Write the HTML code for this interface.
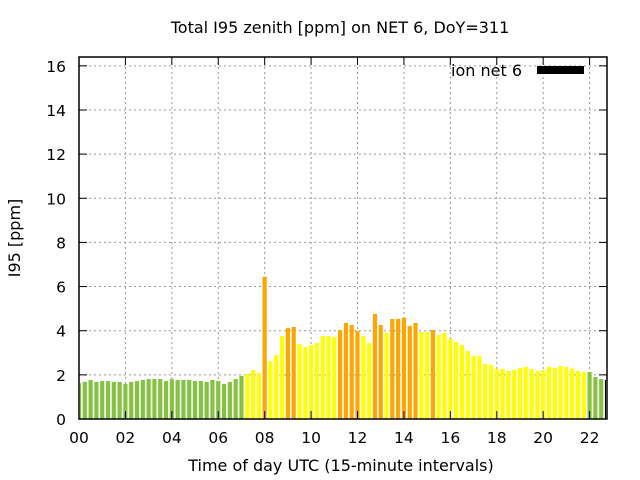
<!DOCTYPE html>
<html><head><meta charset="utf-8"><style>
body{margin:0;background:#fff;}
svg{display:block;font-family:"DejaVu Sans","Liberation Sans",sans-serif;}
</style></head><body>
<svg id="c" width="640" height="480" viewBox="0 0 640 480">
<text x="340" y="33" text-anchor="middle" font-size="16">Total I95 zenith [ppm] on NET 6, DoY=311</text>
<text x="341" y="471" text-anchor="middle" font-size="16">Time of day UTC (15-minute intervals)</text>
<text x="20" y="238" text-anchor="middle" font-size="16" transform="rotate(-90 20 238)">I95 [ppm]</text>
<g id="grid"></g><g id="bars"></g><g id="axes"></g>
<text x="522" y="76" text-anchor="end" font-size="16">ion net 6</text>
<rect x="537" y="66" width="47" height="8" fill="#000"/>
</svg>
<script>
const values=[1.63,1.68,1.77,1.68,1.72,1.72,1.68,1.68,1.59,1.68,1.72,1.77,1.81,1.81,1.81,1.72,1.81,1.77,1.77,1.77,1.72,1.72,1.68,1.77,1.72,1.59,1.68,1.81,1.95,2.04,2.22,2.08,
6.44,2.63,2.90,3.76,4.12,4.17,3.40,3.26,3.35,3.44,3.76,3.76,3.72,4.03,4.35,4.26,3.99,3.76,3.44,4.76,4.26,3.90,4.53,4.53,4.58,4.21,4.35,3.94,3.94,4.03,3.81,
3.90,3.63,3.49,3.35,3.08,2.86,2.86,2.49,2.45,2.27,2.27,2.18,2.22,2.31,2.36,2.27,2.18,2.22,2.36,2.31,2.40,2.36,2.27,2.18,2.13,2.13,1.90,1.81,1.77];
const levels="GGGGGGGGGGGGGGGGGGGGGGGGGGGGGYYYOYYYOOYYYYYYYOOOOYYOOYOOOOOYYOYYYYYYYYYYYYYYYYYYYYYYYYYYGGG".split("");
const yTicks=[0,2,4,6,8,10,12,14,16];
const xTicks=["00","02","04","06","08","10","12","14","16","18","20","22"];
const L=79,R=607,T=57,B=419,xMax=22.75,yMax=16.4;
const X=h=>L+(R-L)*h/xMax, Y=v=>B-(B-T)*v/yMax;
const col={G:"#84c341",Y:"#ffff00",O:"#ffa500"};
const NS="http://www.w3.org/2000/svg";
function mk(p,t,a){const e=document.createElementNS(NS,t);for(const k in a)e.setAttribute(k,a[k]);p.appendChild(e);return e;}
const g=document.getElementById("grid"),b=document.getElementById("bars"),ax=document.getElementById("axes");
yTicks.forEach(v=>{
 if(v>0){const l=mk(g,"line",{x1:L,x2:R,y1:Y(v),y2:Y(v),stroke:"#999","stroke-dasharray":"2,3"});
 
 }
 mk(ax,"line",{x1:L,x2:L+8,y1:Y(v),y2:Y(v),stroke:"#000"});
 mk(ax,"line",{x1:R,x2:R-8,y1:Y(v),y2:Y(v),stroke:"#000"});
 const t=mk(ax,"text",{x:L-13,y:Y(v)+6,"text-anchor":"end","font-size":"15.5"});t.textContent=v;
 
 
});
xTicks.forEach(s=>{
 const h=+s,x=X(h);
 if(h>0){const l=mk(g,"line",{x1:x,x2:x,y1:T,y2:B,stroke:"#999","stroke-dasharray":"2,3"});
 
 }
 mk(ax,"line",{x1:x,x2:x,y1:B,y2:B-8,stroke:"#000"});
 mk(ax,"line",{x1:x,x2:x,y1:T,y2:T+8,stroke:"#000"});
 const t=mk(ax,"text",{x:x,y:B+24,"text-anchor":"middle","font-size":"15.5"});t.textContent=s;
 
 
});
const bw=(X(0.25)-X(0))*0.72;
values.forEach((v,i)=>{
 let x0=X(i*0.25)-bw/2,x1=x0+bw;x0=Math.max(x0,L+1);x1=Math.min(x1,R-1);
 const r=mk(b,"rect",{x:x0,y:Y(v),width:x1-x0,height:B-Y(v),fill:col[levels[i]]});
 
 
});
const f=mk(ax,"rect",{x:L,y:T,width:R-L,height:B-T,fill:"none",stroke:"#000","stroke-width":"1.5"});


</script>
</body></html>
